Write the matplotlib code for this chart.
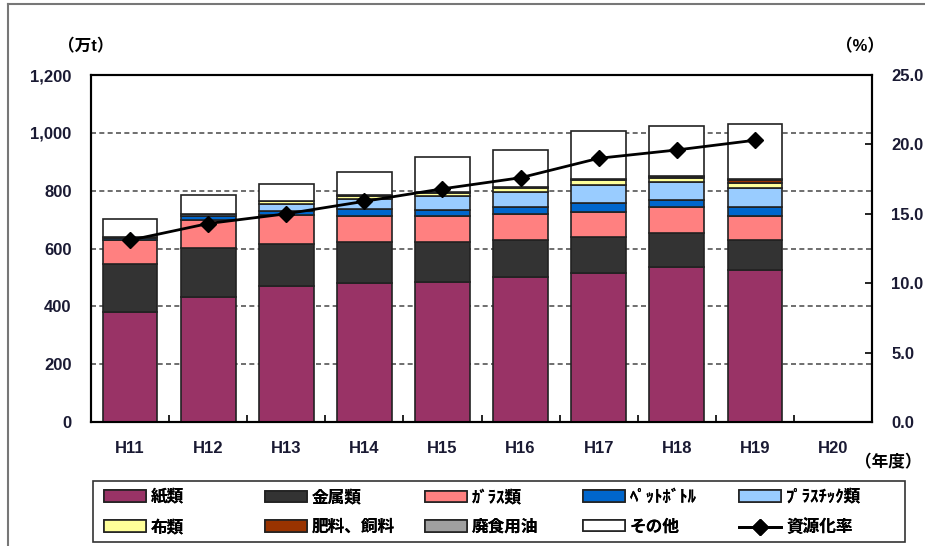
import numpy as np
import matplotlib.pyplot as plt
from matplotlib.lines import Line2D
from matplotlib.patches import Rectangle
from matplotlib.ticker import FuncFormatter

plt.rcParams['font.family'] = ['Liberation Sans', 'Noto Sans CJK JP', 'DejaVu Sans']
FONT_SIZE = 12

years = ["H11", "H12", "H13", "H14", "H15", "H16", "H17", "H18", "H19", "H20"]

# 万t (H20 has no data)
paper = [382, 431, 470, 480, 485, 500, 514, 535, 526]
metal = [163, 172, 145, 144, 136, 129, 125, 117, 103]
glass = [85, 95, 100, 89, 91, 90, 88, 90, 84]
pet = [6, 14, 15, 23, 21, 25, 31, 25, 29]
plastic = [3, 6, 25, 35, 50, 52, 61, 63, 66]
cloth = [1, 1, 8, 11, 10, 14, 17, 15, 19]
fertilizer = [0, 0, 1, 2, 2, 2, 4, 3, 10]
oil = [0, 0, 1, 2, 2, 2, 2, 2, 4]
other = [62, 66, 59, 79, 118, 126, 164, 174, 190]

# %
rate = [13.1, 14.3, 15.0, 15.9, 16.8, 17.6, 19.0, 19.6, 20.3]

series = [
    ("紙類", paper, "#993366"),
    ("金属類", metal, "#333333"),
    ("ｶﾞﾗｽ類", glass, "#FF8080"),
    ("ﾍﾟｯﾄﾎﾞﾄﾙ", pet, "#0066CC"),
    ("ﾌﾟﾗｽﾁｯｸ類", plastic, "#99CCFF"),
    ("布類", cloth, "#FFFF99"),
    ("肥料、飼料", fertilizer, "#993300"),
    ("廃食用油", oil, "#A0A0A0"),
    ("その他", other, "#FFFFFF"),
]

fig = plt.figure(figsize=(9.25, 5.46), dpi=100)
ax = fig.add_axes([0.0984, 0.2271, 0.8443, 0.6355])
ax2 = ax.twinx()

x = np.arange(len(paper))
bottom = np.zeros(len(paper))
handles = []
for name, vals, color in series:
    b = ax.bar(x, vals, bottom=bottom, width=0.7, color=color,
               edgecolor="#222222", linewidth=1.2, label=name, zorder=3)
    handles.append(b)
    bottom += np.array(vals)

ax.set_xlim(-0.5, len(years) - 0.5)
ax.set_ylim(0, 1200)
ax.set_yticks(range(0, 1201, 200))
ax.yaxis.set_major_formatter(FuncFormatter(lambda v, p: f"{int(v):,}"))
ax.set_xticks(np.arange(len(years)))
ax.set_xticklabels(years)
ax.set_xticks(np.arange(len(years) + 1) - 0.5, minor=True)
ax.tick_params(axis="x", which="major", length=0, pad=14)
ax.tick_params(axis="x", which="minor", direction="in", length=5, width=1.2)
ax.tick_params(axis="y", direction="in", length=0, pad=14)
ax.grid(axis="y", linestyle=(0, (3, 2)), color="#555555", linewidth=1.2, zorder=0)
for lbl in ax.get_xticklabels() + ax.get_yticklabels():
    lbl.set_fontweight("bold")
    lbl.set_fontsize(FONT_SIZE)
    lbl.set_color("#1a1a33")

line, = ax2.plot(x, rate, color="black", linewidth=2, marker="D", markersize=8,
                 label="資源化率", zorder=5)
ax2.set_ylim(0, 25)
ax2.set_yticks(np.arange(0, 25.1, 5))
ax2.yaxis.set_major_formatter(FuncFormatter(lambda v, p: f"{v:.1f}"))
ax2.tick_params(axis="y", direction="in", length=5, width=1.2, pad=14)
for lbl in ax2.get_yticklabels():
    lbl.set_fontweight("bold")
    lbl.set_fontsize(FONT_SIZE)
    lbl.set_color("#1a1a33")

for a in (ax, ax2):
    for s in a.spines.values():
        s.set_linewidth(1.5)
        s.set_color("black")

fig.text(86 / 925, 1 - 46 / 546, "（万t）", fontsize=FONT_SIZE, fontweight="bold",
         ha="center", va="center")
fig.text(860 / 925, 1 - 46 / 546, "（%）", fontsize=FONT_SIZE, fontweight="bold",
         ha="center", va="center")
fig.text(888 / 925, 1 - 462 / 546, "（年度）", fontsize=FONT_SIZE, fontweight="bold",
         ha="center", va="center")

# legend: frame plus one two-row legend per column
fig.add_artist(Rectangle((93 / 925, 1 - 542 / 546), 812 / 925, 61 / 546,
                         transform=fig.transFigure, fill=False,
                         edgecolor="#333333", linewidth=1.2))
all_handles = handles + [line]
col_x = [96, 257, 417, 575, 731]
for c, cx in enumerate(col_x):
    hs = [all_handles[c], all_handles[c + 5]]
    lg = fig.legend(hs, [h.get_label() for h in hs],
                    loc="center left", bbox_to_anchor=(cx / 925, 1 - 512 / 546),
                    frameon=False, handlelength=2.5, handleheight=0.7,
                    handletextpad=0.3, labelspacing=0.85, borderpad=0,
                    prop={"weight": "bold", "size": FONT_SIZE})
    fig.add_artist(lg)

# outer frame
fig.add_artist(Line2D([8 / 925, 8 / 925], [0, 1 - 4 / 546], transform=fig.transFigure,
                      color="#777777", linewidth=1.5))
fig.add_artist(Line2D([8 / 925, 1], [1 - 4 / 546, 1 - 4 / 546], transform=fig.transFigure,
                      color="#777777", linewidth=1.5))

fig.savefig("out.png", dpi=100)
